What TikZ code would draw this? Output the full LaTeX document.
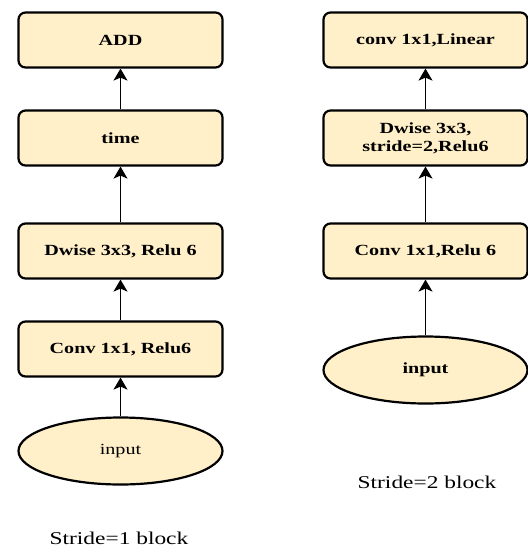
\documentclass[tikz,border=0pt]{standalone}
\usepackage{fontspec}
\setmainfont{Liberation Serif}[FakeStretch=1.3]
\usepackage{xcolor}
\usetikzlibrary{arrows.meta}
\usetikzlibrary{shapes.geometric}
\definecolor{boxfill}{RGB}{255,240,202}
\tikzstyle{layer}=[draw=black,line width=2.2pt,fill=boxfill,rounded corners=7pt,
	minimum width=204pt,minimum height=55pt,inner sep=0pt,align=center,
	font=\fontsize{15.5}{18}\selectfont\bfseries]
\tikzstyle{inblob}=[ellipse,draw=black,line width=2.2pt,fill=boxfill,inner sep=0pt,
	minimum width=204pt,minimum height=67pt,font=\fontsize{15.5}{18}\selectfont]
\tikzstyle{flowarr}=[-{Stealth[length=12pt,width=14pt,inset=3pt]},line width=1.6pt]
\tikzstyle{caption}=[anchor=base,font=\fontsize{18}{20}\selectfont]

\begin{document}
\begin{tikzpicture}[x=1pt,y=-1pt]
	\useasboundingbox (0,0) rectangle (528,547);
	
	\def\xa{120.5}   % left column
	\def\xb{425.5}   % right column
	
	% STRIDE 1
	\node[layer] (add)   at (\xa,40)  {ADD};
	\node[layer] (time)  at (\xa,138) {time};
	\node[layer] (dwa)   at (\xa,251) {Dwise 3x3, Relu 6};
	\node[layer] (cva)   at (\xa,349) {Conv 1x1, Relu6};
	\node[inblob] (ina)  at (\xa,451) {input};
	\node[caption] (capa) at (119,544) {Stride=1 block};
	
	% STRIDE 2
	\node[layer] (lin)   at (\xb,40)  {conv 1x1,Linear};
	\node[layer] (dwb)   at (\xb,138) {Dwise 3x3,\\stride=2,Relu6};
	\node[layer] (cvb)   at (\xb,251) {Conv 1x1,Relu 6};
	\node[inblob,font=\fontsize{15.5}{18}\selectfont\bfseries] (inb) at (\xb,370) {input};
	\node[caption] (capb) at (427,488) {Stride=2 block};
	
	% ARROWS
	\draw[flowarr] (ina) -- (cva);
	\draw[flowarr] (cva) -- (dwa);
	\draw[flowarr] (dwa) -- (time);
	\draw[flowarr] (time) -- (add);
	\draw[flowarr] (inb) -- (cvb);
	\draw[flowarr] (cvb) -- (dwb);
	\draw[flowarr] (dwb) -- (lin);
\end{tikzpicture}
\end{document}
